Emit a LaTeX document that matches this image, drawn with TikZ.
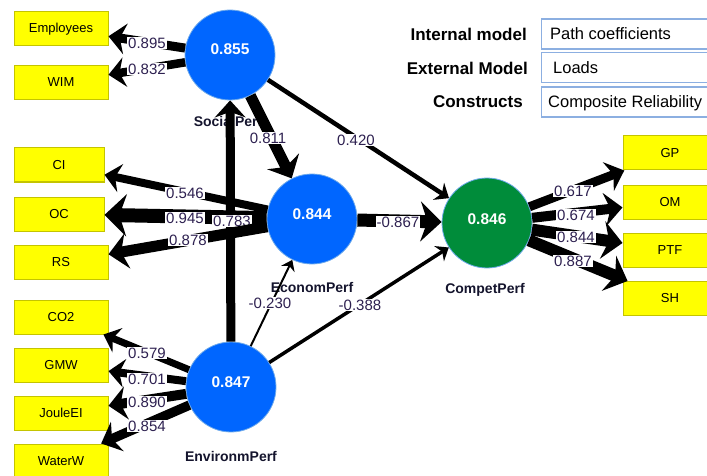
\documentclass[tikz,border=0pt]{standalone}
\usepackage{fontspec}
\setmainfont{Liberation Sans}
\usetikzlibrary{arrows.meta}
\definecolor{lvblue}{RGB}{0,102,255}
\definecolor{lvgreen}{RGB}{0,140,58}
\definecolor{lvedge}{RGB}{110,170,235}
\definecolor{indfill}{RGB}{255,255,0}
\definecolor{inddraw}{RGB}{196,196,0}
\definecolor{coefc}{RGB}{45,32,80}
\definecolor{namec}{RGB}{20,20,45}
\definecolor{legdraw}{RGB}{140,175,225}
\begin{document}
\begin{tikzpicture}[x=1pt,y=-1pt,
  latent/.style={circle, minimum size=90pt, inner sep=0pt, draw=lvedge, line width=0.8pt},
  val/.style={text=white, inner sep=0pt, font=\fontsize{15.5}{18}\selectfont\bfseries},
  ind/.style={rectangle, fill=indfill, draw=inddraw, line width=1pt, minimum width=94pt, minimum height=34pt, inner sep=0pt, font=\fontsize{13}{15}\selectfont},
  cname/.style={anchor=base, font=\fontsize{14}{16}\selectfont\bfseries, text=namec, inner sep=0pt},
  coef/.style={fill=white, inner sep=1pt, text=coefc, text height=10.5pt, text depth=0pt, font=\fontsize{15}{17}\selectfont},
  lnk/.style={line width=#1, -{Stealth[length=8pt 1.0, width=10pt 2.3]}},
  leglab/.style={anchor=east, font=\fontsize{17}{20}\selectfont\bfseries, inner sep=0pt, text height=12pt, text depth=0pt},
  legbox/.style={draw=legdraw, line width=1.2pt, minimum height=30pt, minimum width=180pt, anchor=west, inner sep=0pt},
  legtext/.style={anchor=west, font=\fontsize{16.5}{19}\selectfont, inner sep=0pt, text height=12pt, text depth=0pt}
]
\useasboundingbox (0,0) rectangle (707,476);
% legend
\node[leglab] (l1) at (527,35) {Internal model};
\node[leglab] (l2) at (528,69) {External Model};
\node[leglab] (l3) at (523,102) {Constructs};
\node[legbox] (b1) at (541,34) {};
\node[legbox] (b2) at (541,67.5) {};
\node[legbox] (b3) at (541,102) {};
\node[legtext] (t1) at (550,34) {Path coefficients};
\node[legtext] (t2) at (553,68) {Loads};
\node[legtext] (t3) at (548,102) {Composite Reliability};
% latent variables
\node[latent, fill=lvblue] (soc) at (230,55) {};
\node[latent, fill=lvblue] (eco) at (312,219) {};
\node[latent, fill=lvblue] (env) at (231,387) {};
\node[latent, fill=lvgreen] (comp) at (487,223) {};
\node[val] (vsoc) at (230,49) {0.855};
\node[val] (veco) at (312,214) {0.844};
\node[val] (venv) at (231,382) {0.847};
\node[val] (vcomp) at (487,219) {0.846};
\node[cname] (nsoc) at (228,127) {SocialPerf};
\node[cname] (neco) at (312,292) {EconomPerf};
\node[cname] (nenv) at (231,461) {EnvironmPerf};
\node[cname] (ncomp) at (485,293) {CompetPerf};
% indicators
\node[ind] (emp) at (61,29) {Employees};
\node[ind] (wim) at (61,82.5) {WIM};
\node[ind, minimum width=90pt] (ci) at (59,165) {CI};
\node[ind, minimum width=90pt] (oc) at (59,214) {OC};
\node[ind] (rs) at (61,262.5) {RS};
\node[ind] (co2) at (61,317) {CO2};
\node[ind] (gmw) at (61,365) {GMW};
\node[ind] (joule) at (61,413) {JouleEI};
\node[ind] (water) at (61,461) {WaterW};
\node[ind] (gp) at (670,153) {GP};
\node[ind] (om) at (670,202) {OM};
\node[ind] (ptf) at (670,250) {PTF};
\node[ind] (sh) at (670,298.5) {SH};
% inner model
\draw[lnk=9pt] (env) -- (soc);
\draw[lnk=11pt] (soc) -- (eco);
\draw[lnk=4.5pt] (soc) -- (comp);
\draw[lnk=13pt] (eco) -- (comp);
\draw[lnk=2pt] (env) -- (eco);
\draw[lnk=3.5pt] (env) -- (comp);
% outer model
\draw[lnk=9pt] (soc) -- (emp);
\draw[lnk=8.5pt] (soc) -- (wim);
\draw[lnk=8pt] (eco) -- (ci);
\draw[lnk=14pt] (eco) -- (oc);
\node[coef] (c783) at (232,221) {0.783};
\draw[lnk=11pt] (eco) -- (rs);
\draw[lnk=7pt] (env) -- (co2);
\draw[lnk=8pt] (env) -- (gmw);
\draw[lnk=10pt] (env) -- (joule);
\draw[lnk=9.5pt] (env) -- (water);
\draw[lnk=9pt] (comp) -- (gp);
\draw[lnk=10pt] (comp) -- (om);
\draw[lnk=12pt] (comp) -- (ptf);
\draw[lnk=12pt] (comp) -- (sh);
% coefficient labels
\node[coef] (c811) at (268,138) {0.811};
\node[coef] (c420) at (356,140) {0.420};
\node[coef] (c867) at (398,222) {-0.867};
\node[coef] (c230) at (270,303) {-0.230};
\node[coef] (c388) at (360,305) {-0.388};
\node[coef] (c895) at (147,43) {0.895};
\node[coef] (c832) at (147,69) {0.832};
\node[coef] (c546) at (185,193) {0.546};
\node[coef] (c945) at (185,218) {0.945};
\node[coef] (c878) at (188,240) {0.878};
\node[coef] (c579) at (147,353) {0.579};
\node[coef] (c701) at (147,379) {0.701};
\node[coef] (c890) at (147,402) {0.890};
\node[coef] (c854) at (147,426) {0.854};
\node[coef] (c617) at (573,191) {0.617};
\node[coef] (c674) at (576,215) {0.674};
\node[coef] (c844) at (576,237) {0.844};
\node[coef] (c887) at (573,261) {0.887};
\end{tikzpicture}
\end{document}
